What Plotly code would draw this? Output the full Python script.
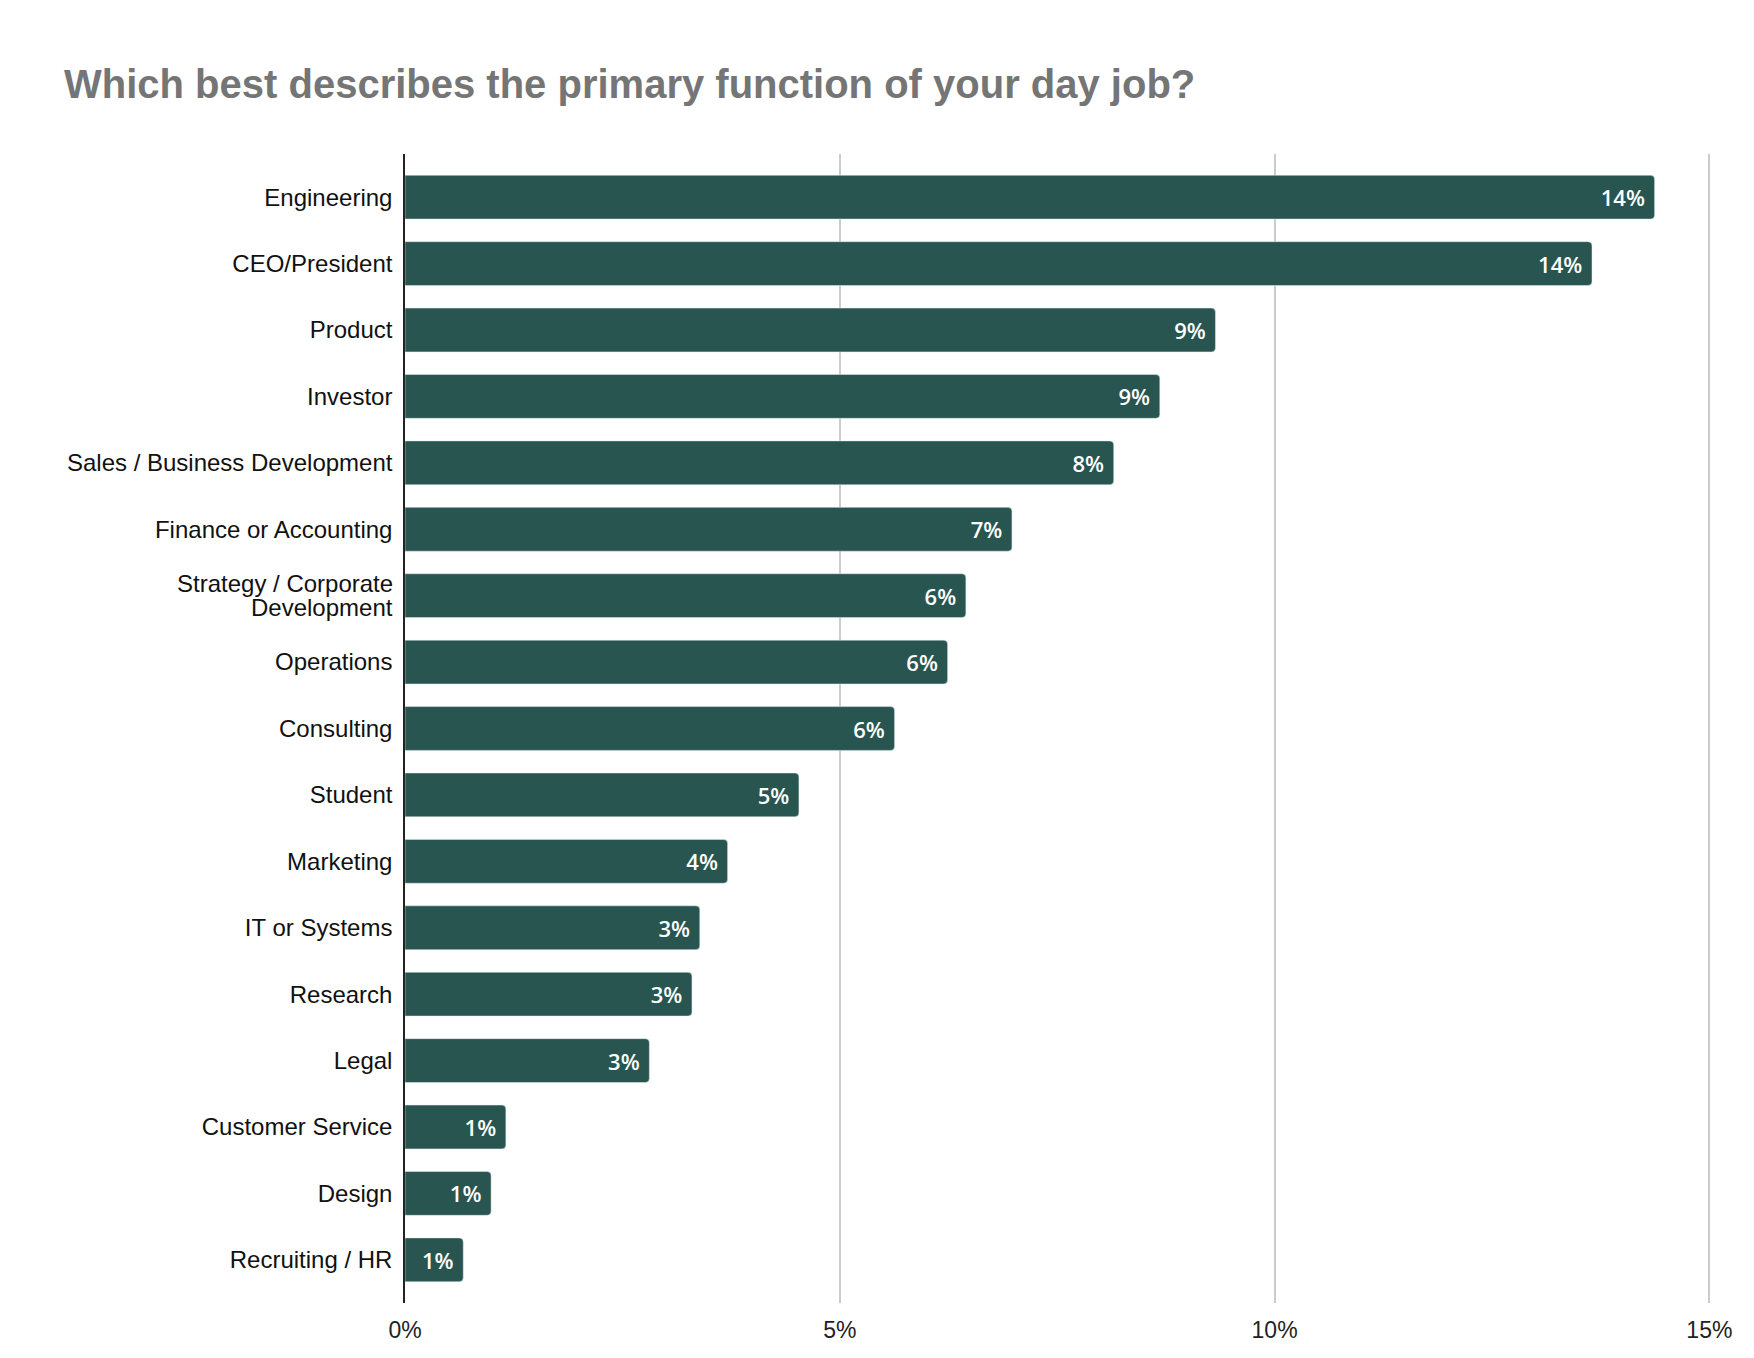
import plotly.graph_objects as go

# survey answers, top to bottom
functions = [
    "Engineering", "CEO/President", "Product", "Investor",
    "Sales / Business Development", "Finance or Accounting",
    "Strategy / Corporate Development", "Operations", "Consulting",
    "Student", "Marketing", "IT or Systems", "Research", "Legal",
    "Customer Service", "Design", "Recruiting / HR",
]
share_pct = [14.37, 13.65, 9.32, 8.68, 8.15, 6.98, 6.45, 6.24, 5.63,
             4.53, 3.71, 3.39, 3.30, 2.81, 1.16, 0.99, 0.67]
x_ticks = [0, 5, 10, 15]
x_tick_text = ["0%", "5%", "10%", "15%"]

# this one label wraps onto two lines with tight spacing
wrapped = "Strategy / Corporate Development"
wrapped_lines = ["Strategy / Corporate", "Development"]

W, H = 1754, 1358
label_font = dict(family="Liberation Sans, Arial", size=24, color="#111111")

fig = go.Figure(go.Bar(
    x=share_pct,
    y=functions,
    orientation="h",
    marker=dict(color="#285550", cornerradius=4),
    texttemplate="%{x:.0f}%\u00a0",
    textposition="inside",
    insidetextanchor="end",
    textangle=0,
    textfont=dict(family="Open Sans", size=22, color="white", weight=600),
    hoverinfo="skip",
))

# page body adds ~8px offset, so margins are pulled in a bit
fig.update_layout(
    width=W, height=H,
    margin=dict(l=397, r=50, t=146, b=63),
    paper_bgcolor="white",
    plot_bgcolor="white",
    bargap=0.34,
    showlegend=False,
    title=dict(
        text="<b>Which best describes the primary function of your day job?</b>",
        font=dict(family="Liberation Sans, Arial", size=40, color="#757575"),
        xref="container", yref="container",
        x=56 / W, xanchor="left",
        y=1 - 76 / H, yanchor="middle",
    ),
    font=dict(family="Liberation Sans, Arial", size=24, color="#222222"),
)

fig.update_xaxes(
    range=[0, 15.03],  # a hair past 15 so the last gridline is drawn
    tickvals=x_ticks,
    ticktext=x_tick_text,
    showgrid=True, gridcolor="#cccccc", gridwidth=1.5,
    zeroline=False, showline=False,
    ticklabelstandoff=11,
    tickfont=dict(family="Liberation Sans, Arial", size=23, color="#222222"),
)
fig.update_yaxes(
    type="category",
    range=[16.65, -0.65],
    tickvals=functions,
    ticktext=["" if f == wrapped else f for f in functions],
    showline=True, linecolor="#222222", linewidth=1.5,
    showgrid=False,
    ticks="",
    ticklabelstandoff=6,
    tickfont=label_font,
)

for i, line in enumerate(wrapped_lines):
    fig.add_annotation(
        text=line, xref="paper", x=0, xanchor="right", xshift=-10,
        y=wrapped, yref="y", yanchor="middle", yshift=12 - 24 * i,
        showarrow=False, font=label_font,
    )

fig.write_html("out.html")
